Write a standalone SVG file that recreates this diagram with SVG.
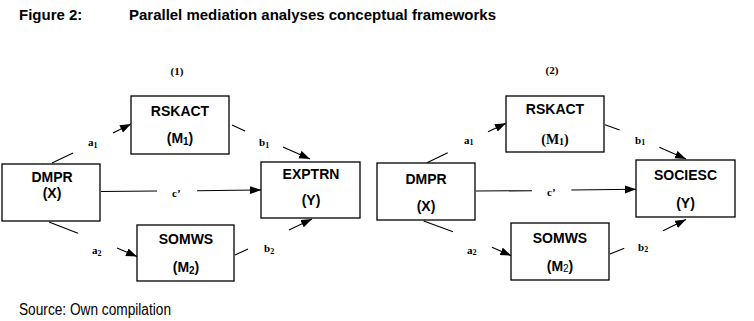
<svg xmlns="http://www.w3.org/2000/svg" width="754" height="321" viewBox="0 0 754 321">
<style>
.box{fill:#fff;stroke:#000;stroke-width:1.3}
.nt{font-family:"Liberation Sans",Arial,sans-serif;font-weight:bold;font-size:14px;text-anchor:middle;fill:#000}
.st{font-family:"Liberation Serif","Times New Roman",serif;font-weight:bold;font-size:14px;text-anchor:middle;fill:#000}
.lb{font-family:"Liberation Serif","Times New Roman",serif;font-weight:bold;font-size:11px;fill:#000}
.ln{stroke:#000;stroke-width:1.1;fill:none}
.ttl{font-family:"Liberation Sans",Arial,sans-serif;font-weight:bold;font-size:15px;fill:#000}
</style>
<defs>
<marker id="ah" markerUnits="userSpaceOnUse" markerWidth="12" markerHeight="9" refX="11" refY="4" orient="auto">
<path d="M0,0 L11,4 L0,8 z" fill="#000"/>
</marker>
</defs>
<rect width="754" height="321" fill="#fff"/>
<text class="ttl" x="19" y="20">Figure 2:</text>
<text class="ttl" x="129" y="20" textLength="367" lengthAdjust="spacingAndGlyphs">Parallel mediation analyses conceptual frameworks</text>
<text class="lb" x="177" y="75" text-anchor="middle" font-size="12">(1)</text>
<text class="lb" x="552" y="74" text-anchor="middle" font-size="12">(2)</text>

<g id="connectors">
<line class="ln" x1="52" y1="163" x2="73" y2="153"/>
<line class="ln" x1="113" y1="133" x2="131" y2="124" marker-end="url(#ah)"/>
<text class="lb" x="88" y="146">a<tspan dy="2" font-size="8">1</tspan></text>
<line class="ln" x1="232" y1="125" x2="245" y2="131"/>
<line class="ln" x1="283" y1="147" x2="310" y2="159" marker-end="url(#ah)"/>
<text class="lb" x="259" y="146">b<tspan dy="2" font-size="8">1</tspan></text>
<line class="ln" x1="101" y1="191.5" x2="157" y2="191"/>
<line class="ln" x1="197" y1="190.7" x2="261" y2="190" marker-end="url(#ah)"/>
<text class="lb" x="172" y="197">c’</text>
<line class="ln" x1="49" y1="222" x2="78" y2="233.3"/>
<line class="ln" x1="117" y1="248" x2="137" y2="256.5" marker-end="url(#ah)"/>
<text class="lb" x="92" y="254">a<tspan dy="2" font-size="8">2</tspan></text>
<line class="ln" x1="235" y1="255" x2="248" y2="249"/>
<line class="ln" x1="289" y1="230" x2="312" y2="219" marker-end="url(#ah)"/>
<text class="lb" x="264" y="252">b<tspan dy="2" font-size="8">2</tspan></text>

<line class="ln" x1="427" y1="162.7" x2="447.7" y2="152.7"/>
<line class="ln" x1="488" y1="131.7" x2="506" y2="123.3" marker-end="url(#ah)"/>
<text class="lb" x="464" y="144">a<tspan dy="1" font-size="8">1</tspan></text>
<line class="ln" x1="605" y1="124.7" x2="619.7" y2="130"/>
<line class="ln" x1="659.3" y1="147.3" x2="686" y2="159" marker-end="url(#ah)"/>
<text class="lb" x="635" y="144">b<tspan dy="1" font-size="8">1</tspan></text>
<line class="ln" x1="476" y1="191" x2="532" y2="190.7"/>
<line class="ln" x1="571.3" y1="190" x2="636" y2="189.3" marker-end="url(#ah)"/>
<text class="lb" x="547" y="196">c’</text>
<line class="ln" x1="423.7" y1="221" x2="453" y2="231.7"/>
<line class="ln" x1="492" y1="247.3" x2="511.3" y2="255.7" marker-end="url(#ah)"/>
<text class="lb" x="467" y="254">a<tspan dy="1" font-size="8">2</tspan></text>
<line class="ln" x1="610" y1="254" x2="624.3" y2="248.3"/>
<line class="ln" x1="663" y1="230.7" x2="686" y2="219.5" marker-end="url(#ah)"/>
<text class="lb" x="638" y="251">b<tspan dy="1" font-size="8">2</tspan></text>
</g>

<g id="dmpr1">
<rect class="box" x="2" y="164" width="98" height="57"/>
<text class="nt" x="52" y="182">DMPR</text>
<text class="nt" x="52" y="198">(X)</text>
</g>
<g id="rskact1">
<rect class="box" x="131" y="96" width="98" height="58"/>
<text class="nt" x="180" y="116">RSKACT</text>
<text class="nt" x="180" y="143">(M<tspan dy="2" font-size="10">1</tspan><tspan dy="-2">)</tspan></text>
</g>
<g id="somws1">
<rect class="box" x="137" y="225" width="97" height="56"/>
<text class="nt" x="186" y="244">SOMWS</text>
<text class="nt" x="186" y="272">(M<tspan dy="2" font-size="10">2</tspan><tspan dy="-2">)</tspan></text>
</g>
<g id="exptrn">
<rect class="box" x="261" y="162" width="99" height="56"/>
<text class="nt" x="311" y="179">EXPTRN</text>
<text class="nt" x="311" y="205">(Y)</text>
</g>

<g id="dmpr2">
<rect class="box" x="377" y="163" width="98" height="57"/>
<text class="nt" x="426" y="184">DMPR</text>
<text class="nt" x="426" y="211">(X)</text>
</g>
<g id="rskact2">
<rect class="box" x="506" y="96" width="98" height="56"/>
<text class="nt" x="555" y="114">RSKACT</text>
<text class="st" x="555" y="144">(M<tspan dy="1" font-size="10">1</tspan><tspan dy="-1">)</tspan></text>
</g>
<g id="somws2">
<rect class="box" x="511" y="223" width="98" height="57"/>
<text class="nt" x="560" y="243">SOMWS</text>
<text class="nt" x="560" y="271">(M<tspan dy="1" font-size="10" font-weight="normal">2</tspan><tspan dy="-1">)</tspan></text>
</g>
<g id="sociesc">
<rect class="box" x="636" y="160" width="99" height="57"/>
<text class="nt" x="685.5" y="180">SOCIESC</text>
<text class="nt" x="685.5" y="208">(Y)</text>
</g>

<text x="19" y="315" font-family="'Liberation Sans Narrow','Liberation Sans',Arial,sans-serif" font-size="16" textLength="152" lengthAdjust="spacingAndGlyphs" fill="#000">Source: Own compilation</text>
</svg>
